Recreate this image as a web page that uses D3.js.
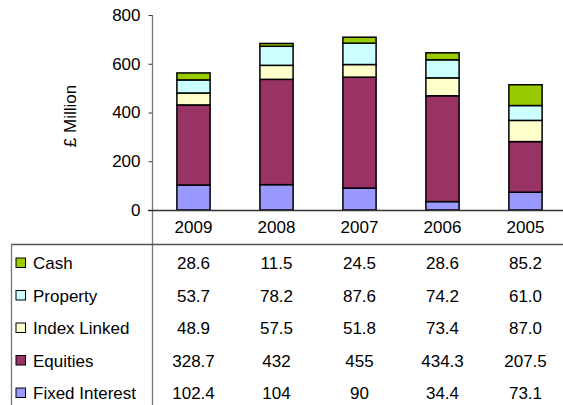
<!DOCTYPE html>
<html><head><meta charset="utf-8">
<script src="https://cdn.jsdelivr.net/npm/d3@7/dist/d3.min.js"></script>
<style>body{margin:0;background:#fff}svg{display:block}text{font-family:"Liberation Sans",Arial,sans-serif;fill:#000}</style>
</head><body>
<svg id="c" width="563" height="405"></svg>
<script>
const years = ["2009","2008","2007","2006","2005"];
const seriesNames = ["Fixed Interest","Equities","Index Linked","Property","Cash"];
const fixedInterest = [102.4,104,90,34.4,73.1];
const equities = [328.7,432,455,434.3,207.5];
const indexLinked = [48.9,57.5,51.8,73.4,87.0];
const property = [53.7,78.2,87.6,74.2,61.0];
const cash = [28.6,11.5,24.5,28.6,85.2];
const yTicks = [0,200,400,600,800];
const colors = ["#9999FF","#993366","#FFFFCC","#CCFFFF","#99CC00"];
const FS = 17;

const valuesBySeries = [fixedInterest, equities, indexLinked, property, cash];
const fmt = [
  fixedInterest.map(String),
  equities.map(String),
  indexLinked.map((v,i)=> i==4? v.toFixed(1): String(v)),
  property.map((v,i)=> i==4? v.toFixed(1): String(v)),
  cash.map(v=>v.toFixed(1))
];

const table = years.map((y,i)=>{const o={year:y}; seriesNames.forEach((s,j)=>o[s]=valuesBySeries[j][i]); return o;});
const stack = d3.stack().keys(seriesNames)(table);

const svg = d3.select("#c");
const x = d3.scaleBand().domain(years).range([152,567]).paddingInner(0.6).paddingOuter(0.3);
const y = d3.scaleLinear().domain([0,800]).range([210,15]);

// bars
svg.append("g").selectAll("g").data(stack).join("g")
  .attr("fill",(d,i)=>colors[i])
  .selectAll("rect").data(d=>d).join("rect")
  .attr("x",d=>x(d.data.year)).attr("width",x.bandwidth())
  .attr("y",d=>y(d[1])).attr("height",d=>y(d[0])-y(d[1]))
  .attr("stroke","#000").attr("stroke-width",1.5);

// y axis
const ya = svg.append("g").attr("transform","translate(152.5,0)")
  .call(d3.axisLeft(y).tickValues(yTicks).tickSize(4).tickPadding(8));
ya.select(".domain").remove();
ya.selectAll("line").attr("stroke","#333");
ya.selectAll("text").attr("font-size",FS).style("font-family","Liberation Sans, Arial, sans-serif");
// vertical axis line extends through table
svg.append("line").attr("x1",152.5).attr("x2",152.5).attr("y1",y(800)).attr("y2",405).attr("stroke","#777").attr("stroke-width",1.3);
// baseline
svg.append("line").attr("x1",148).attr("x2",563).attr("y1",y(0)+0.5).attr("y2",y(0)+0.5).attr("stroke","#333").attr("stroke-width",1.3);

// x labels
svg.append("g").selectAll("text").data(years).join("text")
  .attr("x",d=>x(d)+x.bandwidth()/2).attr("y",233)
  .attr("text-anchor","middle").attr("font-size",FS).text(d=>d);

// axis title
svg.append("text").attr("transform","translate(76,116) rotate(-90)")
  .attr("text-anchor","middle").attr("font-size",FS).text("£ Million");

// table lines
svg.append("line").attr("x1",11).attr("x2",563).attr("y1",244.5).attr("y2",244.5).attr("stroke","#555").attr("stroke-width",1.3);
svg.append("line").attr("x1",11.5).attr("x2",11.5).attr("y1",244).attr("y2",405).attr("stroke","#777").attr("stroke-width",1.3);

// table rows (top to bottom: reverse)
const rowOrder = [4,3,2,1,0];
const rowY = d3.scalePoint().domain(rowOrder).range([263,393]);
const rows = svg.append("g").selectAll("g").data(rowOrder).join("g")
  .attr("transform",j=>`translate(0,${rowY(j)})`);
rows.append("rect").attr("x",16).attr("y",-5).attr("width",9.5).attr("height",9.5)
  .attr("fill",j=>colors[j]).attr("stroke","#000").attr("stroke-width",1);
rows.append("text").attr("x",33).attr("dy","0.36em").attr("font-size",FS).text(j=>seriesNames[j]);
rows.selectAll("text.v").data(j=>years.map((yy,i)=>({yy,t:fmt[j][i]}))).join("text")
  .attr("class","v").attr("x",d=>x(d.yy)+x.bandwidth()/2).attr("dy","0.36em")
  .attr("text-anchor","middle").attr("font-size",FS).text(d=>d.t);
</script>
</body></html>
